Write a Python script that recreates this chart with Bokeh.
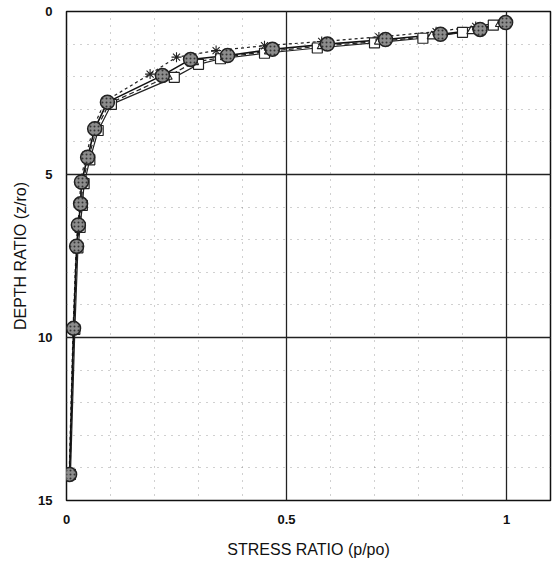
from bokeh.plotting import figure
from bokeh.models import Range1d, SingleIntervalTicker
from bokeh.embed import file_html
from bokeh.resources import INLINE

# Series A: filled circles (solid line)
depth_a = [0.34, 0.55, 0.70, 0.86, 1.00, 1.16, 1.35, 1.47, 1.96, 2.78, 3.60, 4.47, 5.23, 5.90, 6.55, 7.20, 9.72, 14.20]
stress_a = [0.998, 0.94, 0.85, 0.725, 0.593, 0.468, 0.366, 0.282, 0.218, 0.093, 0.064, 0.048, 0.034, 0.032, 0.027, 0.023, 0.016, 0.007]

# Series B: open squares (solid line)
depth_b = [0.42, 0.64, 0.82, 0.96, 1.12, 1.28, 1.45, 1.62, 2.02, 2.85, 3.65, 4.55, 5.28, 5.95, 6.62, 7.25, 9.75, 14.20]
stress_b = [0.97, 0.90, 0.81, 0.70, 0.57, 0.45, 0.35, 0.30, 0.245, 0.102, 0.072, 0.053, 0.040, 0.036, 0.031, 0.026, 0.019, 0.009]

# Series C: asterisks (dashed line)
depth_c = [0.30, 0.46, 0.62, 0.78, 0.92, 1.05, 1.20, 1.40, 1.92, 2.75, 3.55, 4.40, 5.18, 5.88, 6.50, 7.18, 9.70, 14.20]
stress_c = [1.0, 0.93, 0.84, 0.71, 0.58, 0.45, 0.34, 0.25, 0.19, 0.088, 0.061, 0.045, 0.032, 0.030, 0.026, 0.022, 0.015, 0.006]

# Series D: triangles (dashed line)
depth_d = [0.38, 0.60, 0.76, 0.92, 1.06, 1.22, 1.40, 1.55, 2.00, 2.82, 3.62, 4.50, 5.25, 5.92, 6.58, 7.22, 9.73, 14.20]
stress_d = [0.985, 0.92, 0.83, 0.71, 0.58, 0.46, 0.36, 0.29, 0.23, 0.097, 0.068, 0.050, 0.037, 0.034, 0.029, 0.024, 0.017, 0.008]

x_ticks = [0, 0.5, 1]
y_ticks = [0, 5, 10, 15]

p = figure(output_backend="svg", toolbar_location=None,
           frame_width=484, frame_height=489,
           min_border_left=66, min_border_top=11, min_border_right=2, min_border_bottom=60,
           x_range=Range1d(0, 1.1), y_range=Range1d(15, 0))

p.background_fill_color = "white"
p.border_fill_color = "white"
p.outline_line_color = "#111111"
p.outline_line_width = 1.5

p.xaxis.ticker = SingleIntervalTicker(interval=0.5, num_minor_ticks=5)
p.yaxis.ticker = SingleIntervalTicker(interval=5, num_minor_ticks=5)
p.xaxis.major_label_overrides = {0: "0", 0.5: "0.5", 1: "1"}

for ax in (p.xaxis[0], p.yaxis[0]):
    ax.axis_line_color = None
    ax.major_tick_line_color = None
    ax.minor_tick_line_color = None
    ax.major_tick_out = 0
    ax.major_tick_in = 0
    ax.minor_tick_out = 0
    ax.major_label_text_font = "Liberation Sans"
    ax.major_label_text_font_size = "13px"
    ax.major_label_text_font_style = "bold"
    ax.major_label_text_color = "#111111"
    ax.axis_label_text_font = "Liberation Sans"
    ax.axis_label_text_font_size = "16px"
    ax.axis_label_text_font_style = "normal"
    ax.axis_label_text_color = "#111111"

p.xaxis.axis_label = "STRESS RATIO (p/po)"
p.yaxis.axis_label = "DEPTH RATIO (z/ro)"
p.xaxis.major_label_standoff = 14
p.yaxis.major_label_standoff = 14
p.xaxis.axis_label_standoff = 14
p.yaxis.axis_label_standoff = 6

for g in (p.xgrid[0], p.ygrid[0]):
    g.grid_line_color = "#222222"
    g.grid_line_width = 1.3
    g.minor_grid_line_color = "#777777"
    g.minor_grid_line_dash = "1 6"
    g.minor_grid_line_alpha = 0.7

# lines
p.line(stress_b, depth_b, line_color="#222222", line_width=1.2)
p.line(stress_d, depth_d, line_color="#222222", line_width=1.2, line_dash="5 3")
p.line(stress_c, depth_c, line_color="#222222", line_width=1.2, line_dash="3 3")
p.line(stress_a, depth_a, line_color="#111111", line_width=1.6)

# markers
p.scatter(stress_b, depth_b, marker="square", size=10, fill_color="white", line_color="#222222", line_width=1.2)
p.scatter(stress_d, depth_d, marker="triangle", size=9, fill_color="white", line_color="#222222", line_width=1.1)
p.scatter(stress_c, depth_c, marker="asterisk", size=10, line_color="#222222", line_width=1.1)
p.scatter(stress_a, depth_a, marker="circle", size=14, fill_color="#8c8c8c", line_color="#222222", line_width=1.5,
          hatch_pattern="dot", hatch_color="#333333", hatch_scale=4, hatch_weight=1)

open("out.html", "w").write(file_html(p, INLINE))
